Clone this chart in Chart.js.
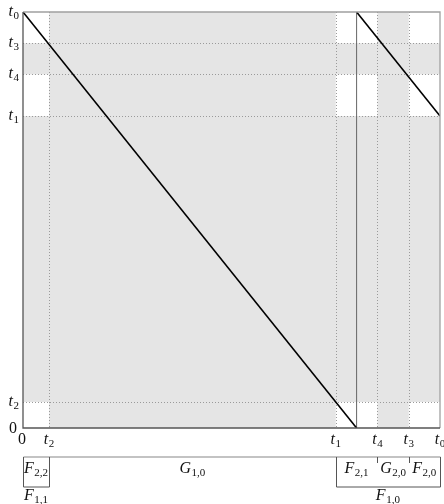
<!DOCTYPE html>
<html>
<head>
<meta charset="utf-8">
<script src="https://cdn.jsdelivr.net/npm/chart.js@4"></script>
<style>
  body { margin: 0; background: #fff; }
  canvas { display: block; }
</style>
</head>
<body>
<canvas id="chart" width="444" height="504"></canvas>
<script>
// tick positions (t0 = 1)
const tickValues = [0, 0.0625, 0.75, 0.85, 0.925, 1];
const tickNames = [["0", ""], ["t", "2"], ["t", "1"], ["t", "4"], ["t", "3"], ["t", "0"]];

// shaded bands (same on both axes)
const grayBands = [[0.0625, 0.75], [0.85, 0.925]];

// sawtooth: two falling pieces and the jump between them
const fallAX = [0, 0.8];
const fallAY = [1, 0];
const fallBX = [0.8, 1];
const fallBY = [1, 0.75];
const jumpX = [0.8, 0.8];
const jumpY = [0, 1];

// interval brackets under the plot
const upperBounds = [0, 0.0625, 0.75, 0.85, 0.925, 1];
const upperNames = [["F", "2,2"], ["G", "1,0"], ["F", "2,1"], ["G", "2,0"], ["F", "2,0"]];
const lowerRanges = [[0, 0.0625], [0.75, 1]];
const lowerNames = [["F", "1,1"], ["F", "1,0"]];

const SERIF = '"Liberation Serif", "DejaVu Serif", serif';

function mathText(ctx, base, sub, x, y, align) {
  const baseFont = (base === "0" ? "" : "italic ") + "16px " + SERIF;
  const subFont = "11px " + SERIF;
  ctx.font = baseFont;
  const wb = ctx.measureText(base).width;
  ctx.font = subFont;
  const ws = sub ? ctx.measureText(sub).width + 0.5 : 0;
  const w = wb + ws;
  let x0 = x - w / 2;
  if (align === "right") x0 = x - w;
  ctx.textAlign = "left";
  ctx.textBaseline = "alphabetic";
  ctx.fillStyle = "#111";
  ctx.font = baseFont;
  ctx.fillText(base, x0, y);
  if (sub) {
    ctx.font = subFont;
    ctx.fillText(sub, x0 + wb + 0.5, y + 3);
  }
}

const line = (xs, ys, color, width) => ({
  data: xs.map((v, i) => ({ x: v, y: ys[i] })),
  borderColor: color,
  borderWidth: width,
  pointRadius: 0,
});

const decor = {
  id: "decor",
  beforeDatasetsDraw(chart) {
    const { ctx, chartArea: a, scales: { x, y } } = chart;
    ctx.save();
    ctx.fillStyle = "#e5e5e5";
    grayBands.forEach(([lo, hi]) => {
      const x1 = x.getPixelForValue(lo), x2 = x.getPixelForValue(hi);
      ctx.fillRect(x1, a.top, x2 - x1, a.bottom - a.top);
      const y1 = y.getPixelForValue(hi), y2 = y.getPixelForValue(lo);
      ctx.fillRect(a.left, y1, a.right - a.left, y2 - y1);
    });
    // dotted grid
    ctx.strokeStyle = "#9a9a9a";
    ctx.lineWidth = 1;
    ctx.setLineDash([1, 2]);
    tickValues.slice(1, -1).forEach(v => {
      const px = Math.round(x.getPixelForValue(v)) + 0.5;
      const py = Math.round(y.getPixelForValue(v)) + 0.5;
      ctx.beginPath();
      ctx.moveTo(px, a.top); ctx.lineTo(px, a.bottom);
      ctx.moveTo(a.left, py); ctx.lineTo(a.right, py);
      ctx.stroke();
    });
    ctx.restore();
  },
  afterDatasetsDraw(chart) {
    const { ctx, chartArea: a } = chart;
    ctx.save();
    ctx.lineWidth = 1.3;
    ctx.strokeStyle = "#a0a0a0";
    ctx.beginPath();
    ctx.moveTo(a.left, a.top); ctx.lineTo(a.right, a.top); ctx.lineTo(a.right, a.bottom);
    ctx.stroke();
    ctx.strokeStyle = "#555";
    ctx.beginPath();
    ctx.moveTo(a.left, a.top); ctx.lineTo(a.left, a.bottom); ctx.lineTo(a.right, a.bottom);
    ctx.stroke();
    ctx.restore();
  },
  afterDraw(chart) {
    const { ctx, chartArea: a, scales: { x, y } } = chart;
    ctx.save();
    // tick labels
    tickValues.forEach((v, i) => {
      const [b, s] = tickNames[i];
      mathText(ctx, b, s, x.getPixelForValue(v) - (i === 0 ? 1 : 0), a.bottom + 16, "center");
      mathText(ctx, b, s, a.left - 4 - (i === 0 ? 2 : 0), y.getPixelForValue(v) + (i === 0 ? 5 : 4), "right");
    });
    // brackets
    const top = a.bottom + 29, bot = a.bottom + 59;
    const px = v => Math.round(x.getPixelForValue(v)) + 0.5;
    ctx.strokeStyle = "#888";
    ctx.lineWidth = 1.2;
    ctx.beginPath();
    ctx.moveTo(px(upperBounds[0]), top); ctx.lineTo(px(upperBounds[upperBounds.length - 1]), top);
    ctx.stroke();
    ctx.strokeStyle = "#555";
    ctx.lineWidth = 1;
    const longEnds = lowerRanges.flat();
    upperBounds.forEach(v => {
      ctx.beginPath();
      ctx.moveTo(px(v), top);
      ctx.lineTo(px(v), longEnds.includes(v) ? bot : top + 6);
      ctx.stroke();
    });
    lowerRanges.forEach(([lo, hi]) => {
      ctx.beginPath();
      ctx.moveTo(px(lo), bot); ctx.lineTo(px(hi), bot);
      ctx.stroke();
    });
    upperNames.forEach(([b, s], i) => {
      const cx = (x.getPixelForValue(upperBounds[i]) + x.getPixelForValue(upperBounds[i + 1])) / 2;
      mathText(ctx, b, s, cx, top + 16, "center");
    });
    lowerNames.forEach(([b, s], i) => {
      const [lo, hi] = lowerRanges[i];
      const cx = (x.getPixelForValue(lo) + x.getPixelForValue(hi)) / 2;
      mathText(ctx, b, s, cx, bot + 13, "center");
    });
    ctx.restore();
  }
};

new Chart(document.getElementById("chart"), {
  type: "line",
  data: {
    datasets: [
      line(fallAX, fallAY, "#000", 1.6),
      line(fallBX, fallBY, "#000", 1.6),
      line(jumpX, jumpY, "#666", 1),
    ],
  },
  options: {
    responsive: false,
    animation: false,
    events: [],
    layout: { padding: { top: 12, right: 4, left: 0, bottom: 0 } },
    plugins: { legend: { display: false }, tooltip: { enabled: false } },
    scales: {
      x: {
        type: "linear",
        min: 0,
        max: 1,
        ticks: { display: false },
        grid: { display: false },
        border: { display: false },
        afterFit: (s) => { s.height = 76; },
      },
      y: {
        type: "linear",
        min: 0,
        max: 1,
        ticks: { display: false },
        grid: { display: false },
        border: { display: false },
        afterFit: (s) => { s.width = 23; },
      },
    },
  },
  plugins: [decor],
});
</script>
</body>
</html>
